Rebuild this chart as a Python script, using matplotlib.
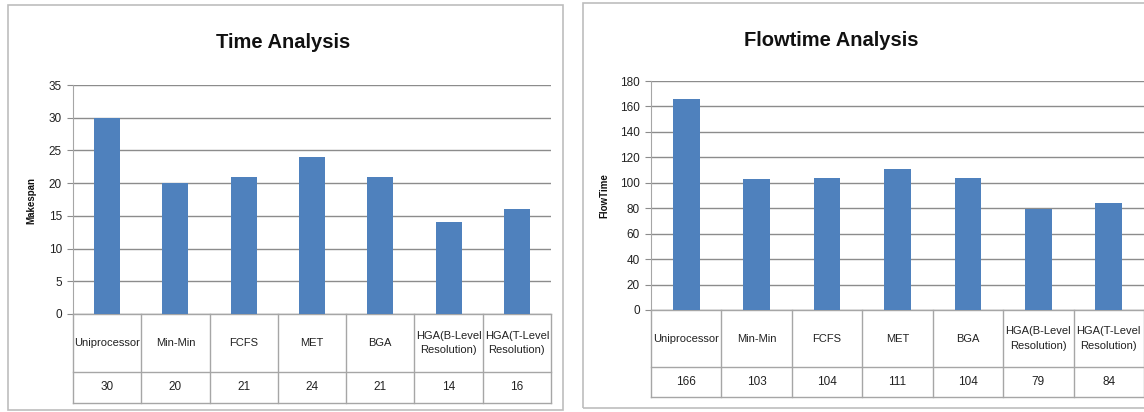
import matplotlib
matplotlib.use("Agg")
import matplotlib.pyplot as plt
from matplotlib.patches import Rectangle

plt.rcParams['font.family'] = ['Liberation Sans', 'DejaVu Sans']

categories = ["Uniprocessor", "Min-Min", "FCFS", "MET", "BGA",
              "HGA(B-Level\nResolution)", "HGA(T-Level\nResolution)"]
makespan = [30, 20, 21, 24, 21, 14, 16]
flowtime = [166, 103, 104, 111, 104, 79, 84]

W, H = 1144, 412
fig = plt.figure(figsize=(W / 100, H / 100), dpi=100)

BAR = "#4F81BD"
GRID = "#8C8C8C"
TABLE = "#A6A6A6"


def px(x0, y0, x1, y1):
    return [x0 / W, 1 - y1 / H, (x1 - x0) / W, (y1 - y0) / H]


def panel(border, axrect, values, ymax, ystep, title, title_xy, ylabel, ylabel_xy, row1, row2):
    bx0, by0, bx1, by1 = border
    fig.patches.append(Rectangle((bx0 / W, 1 - by1 / H), (bx1 - bx0) / W, (by1 - by0) / H,
                                 transform=fig.transFigure, fill=False,
                                 edgecolor="#BDBDBD", linewidth=1.2))
    ax = fig.add_axes(px(*axrect))
    n = len(values)
    xs = list(range(n))
    ax.bar(xs, values, width=0.38, color=BAR, zorder=3)
    ax.set_xlim(-0.5, n - 0.5)
    ax.set_ylim(0, ymax)
    ax.set_yticks(range(0, ymax + 1, ystep))
    ax.yaxis.grid(True, color=GRID, linewidth=1.0, zorder=0)
    ax.set_xticks([])
    for s in ["top", "right", "bottom"]:
        ax.spines[s].set_visible(False)
    ax.spines["left"].set_color(TABLE)
    ax.tick_params(axis="y", length=4, color=GRID, labelsize=8.5, labelcolor="#222222", pad=4)
    fig.text(title_xy[0] / W, 1 - title_xy[1] / H, title, ha="center", va="center",
             fontsize=14.5, fontweight="bold", color="#111111")
    fig.text(ylabel_xy[0] / W, 1 - ylabel_xy[1] / H, ylabel, ha="center", va="center",
             rotation=90, fontsize=7, fontweight="bold", color="#111111")
    # data table below the axis
    t = ax.transAxes
    kw = dict(color=TABLE, linewidth=1.0, transform=t, clip_on=False)
    ax.plot([0, 1], [0, 0], **kw)
    ax.plot([0, 1], [row1, row1], **kw)
    ax.plot([0, 1], [row2, row2], **kw)
    for i in range(n + 1):
        ax.plot([i / n, i / n], [0, row2], **kw)
    for i, (c, v) in enumerate(zip(categories, values)):
        xc = (i + 0.5) / n
        ax.text(xc, row1 / 2, c, transform=t, ha="center", va="center",
                fontsize=8, color="#222222", linespacing=1.6)
        ax.text(xc, (row1 + row2) / 2, str(v), transform=t, ha="center", va="center",
                fontsize=8.5, color="#222222")
    return ax


# left panel
panel(border=(8, 5, 563, 410), axrect=(73, 85, 551, 314), values=makespan,
      ymax=35, ystep=5, title="Time Analysis", title_xy=(283, 43),
      ylabel="Makespan", ylabel_xy=(31, 200),
      row1=-58 / 229, row2=-89 / 229)

# right panel
panel(border=(583, 3, 1160, 408), axrect=(651, 81, 1144, 310), values=flowtime,
      ymax=180, ystep=20, title="Flowtime Analysis", title_xy=(831, 40),
      ylabel="FlowTime", ylabel_xy=(604, 196),
      row1=-57 / 229, row2=-87 / 229)

fig.savefig("out.png", dpi=100)
